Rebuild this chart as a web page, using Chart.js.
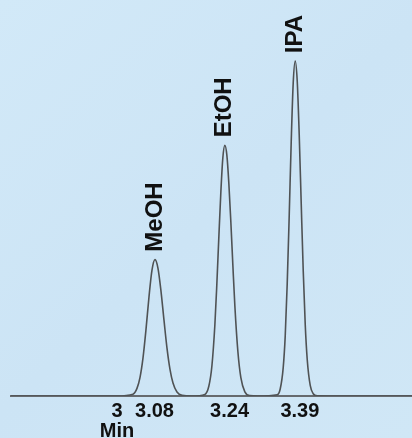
<!DOCTYPE html>
<html>
<head>
<meta charset="utf-8">
<script src="https://cdn.jsdelivr.net/npm/chart.js@4.4.1/dist/chart.umd.min.js"></script>
<style>
  html, body { margin: 0; padding: 0; background: #cfe6f6; overflow: hidden; }
  canvas { display: block; }
</style>
</head>
<body>
<canvas id="c" width="412" height="438"></canvas>
<script>
// Retention time (min) and detector signal
const baselineTimes = [2.774, 3.000, 3.160, 3.300, 3.480, 3.629];
const baselineSignal = [0, 0, 0, 0, 0, 0];

const meohTimes  = [3.0341, 3.0426, 3.0490, 3.0554, 3.0618, 3.0682, 3.0746, 3.0810, 3.0874, 3.0938, 3.1002, 3.1066, 3.1130, 3.1194, 3.1279, 3.1386];
const meohSignal = [1.8, 7.6, 18.4, 37.8, 66.2, 98.8, 125.5, 136, 127.4, 104.7, 75.6, 47.8, 26.6, 13.0, 4.0, 0.7];

const etohTimes  = [3.1874, 3.1959, 3.2023, 3.2087, 3.2129, 3.2172, 3.2215, 3.2257, 3.2300, 3.2343, 3.2385, 3.2428, 3.2471, 3.2513, 3.2577, 3.2641, 3.2726, 3.2833];
const etohSignal = [1.6, 10, 29.7, 71, 111.7, 159, 204, 237.7, 250, 240, 212, 173, 130, 90, 44.6, 18.3, 4.2, 0.4];

const ipaTimes  = [3.3416, 3.3480, 3.3544, 3.3587, 3.3629, 3.3672, 3.3715, 3.3757, 3.3800, 3.3843, 3.3885, 3.3928, 3.3971, 3.4013, 3.4056, 3.4120, 3.4184, 3.4269];
const ipaSignal = [1.3, 7, 28.3, 60, 111.5, 180, 254, 312, 334, 314, 261, 192, 124.7, 71.8, 36.4, 10.5, 2.3, 0.2];

// Peak annotations
const peakNames   = ['MeOH', 'EtOH', 'IPA'];
const peakTimes   = [3.081, 3.230, 3.380];
const peakHeights = [136, 250, 334];

// Axis ticks
const tickValues = [3, 3.08, 3.24, 3.39];
const tickLabels = [['3', 'Min'], '3.08', '3.24', '3.39'];

// Build one continuous trace sorted by time
const pts = [];
[[baselineTimes, baselineSignal], [meohTimes, meohSignal], [etohTimes, etohSignal], [ipaTimes, ipaSignal]]
  .forEach(([t, s]) => t.forEach((v, i) => pts.push({ x: v, y: s[i] })));
pts.sort((a, b) => a.x - b.x);

const bgPlugin = {
  id: 'bg',
  beforeDraw(chart) {
    const { ctx, width, height } = chart;
    ctx.save();
    const g = ctx.createLinearGradient(0, 0, width, height);
    g.addColorStop(0, '#d2e9f8');
    g.addColorStop(0.5, '#cce4f5');
    g.addColorStop(1, '#d0e7f6');
    ctx.fillStyle = g;
    ctx.fillRect(0, 0, width, height);
    ctx.restore();
  }
};

const peakLabelPlugin = {
  id: 'peakLabels',
  afterDatasetsDraw(chart) {
    const { ctx } = chart;
    const xs = chart.scales.x, ys = chart.scales.y;
    ctx.save();
    ctx.fillStyle = '#111';
    ctx.font = 'bold 24px "Liberation Sans", Arial, sans-serif';
    ctx.textAlign = 'left';
    ctx.textBaseline = 'middle';
    peakNames.forEach((name, i) => {
      const px = xs.getPixelForValue(peakTimes[i]);
      const py = ys.getPixelForValue(peakHeights[i]);
      ctx.save();
      ctx.translate(px, py - 8);
      ctx.rotate(-Math.PI / 2);
      ctx.fillText(name, 0, 0);
      ctx.restore();
    });
    ctx.restore();
  }
};

new Chart(document.getElementById('c'), {
  type: 'line',
  data: {
    datasets: [{
      data: pts,
      borderColor: '#4f5254',
      borderWidth: 1.6,
      pointRadius: 0,
      fill: false,
      cubicInterpolationMode: 'monotone'
    }]
  },
  options: {
    responsive: false,
    animation: false,
    layout: { padding: { left: 11, right: 0, top: 0, bottom: -8 } },
    plugins: { legend: { display: false }, tooltip: { enabled: false } },
    scales: {
      x: {
        type: 'linear',
        min: 2.774,
        max: 3.629,
        grid: { display: false, drawTicks: false },
        border: { display: true, color: '#666a6e', width: 2 },
        afterBuildTicks(scale) {
          scale.ticks = tickValues.map(v => ({ value: v }));
        },
        ticks: {
          autoSkip: false,
          maxRotation: 0,
          padding: 5,
          color: '#111',
          font: { family: '"Liberation Sans", Arial, sans-serif', size: 20, weight: 'bold', lineHeight: 1.0 },
          callback(value) {
            const i = tickValues.findIndex(v => Math.abs(v - value) < 1e-6);
            return i >= 0 ? tickLabels[i] : '';
          }
        }
      },
      y: { display: false, min: 0, max: 395 }
    }
  },
  plugins: [bgPlugin, peakLabelPlugin]
});
</script>
</body>
</html>
